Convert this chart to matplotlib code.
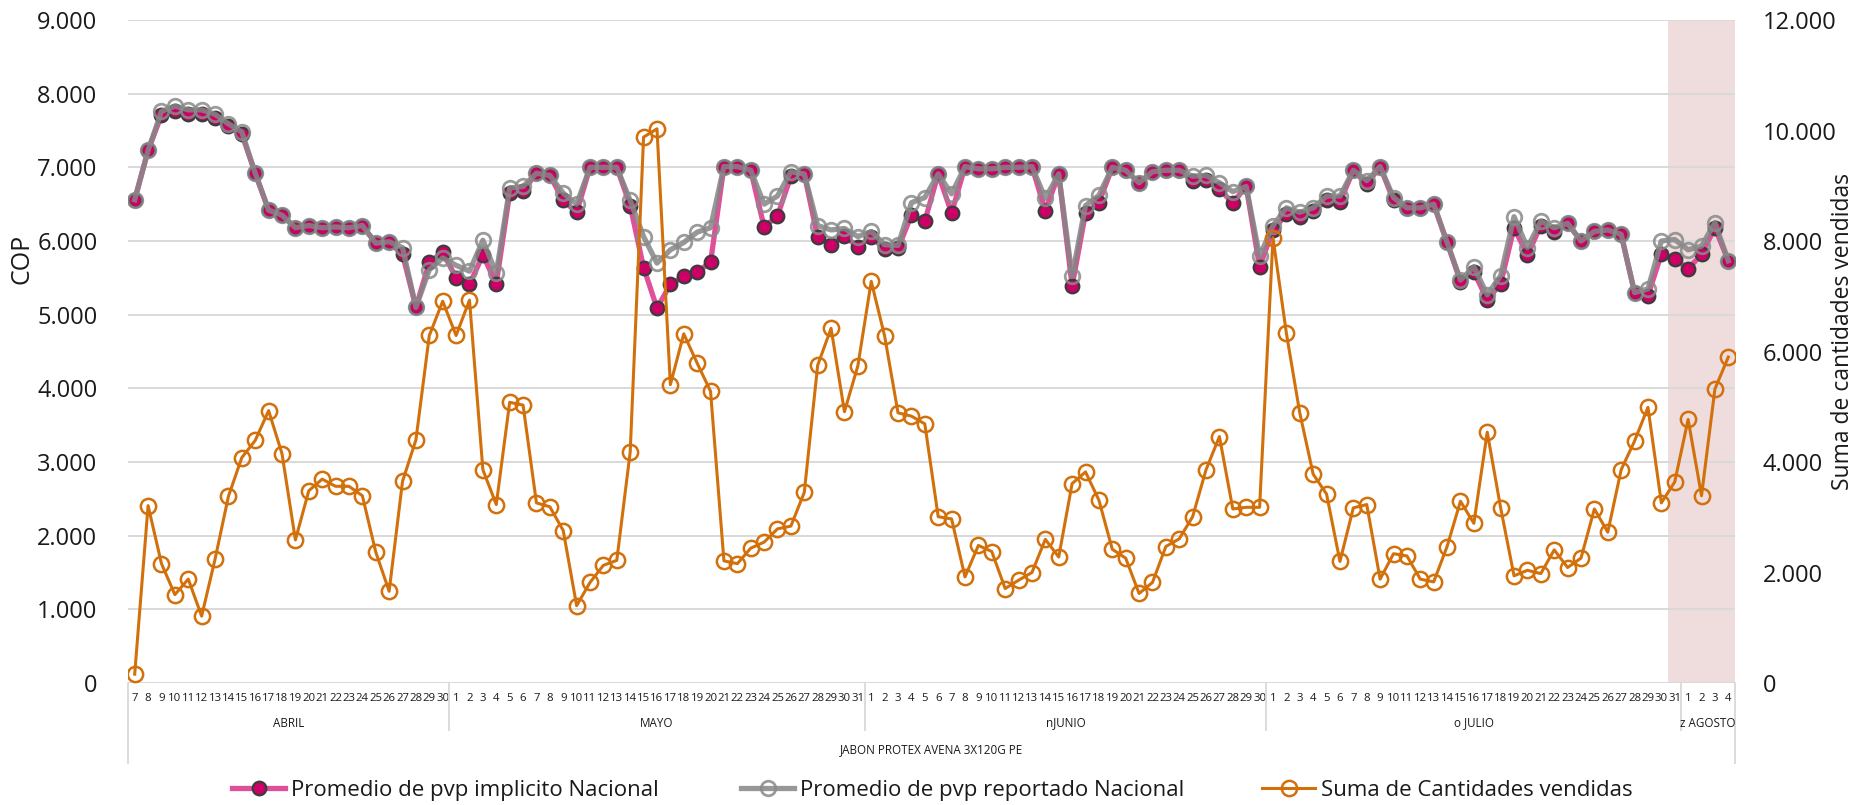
import matplotlib
matplotlib.use('Agg')
import matplotlib.pyplot as plt
from matplotlib.lines import Line2D
from matplotlib.ticker import FuncFormatter, MultipleLocator
import matplotlib.transforms as mtransforms

plt.rcParams['font.family'] = ['Open Sans', 'DejaVu Sans']

# ---------------- data ----------------
months = ['ABRIL', 'MAYO', 'nJUNIO', 'o JULIO', 'z AGOSTO']
month_days = [list(range(7, 31)), list(range(1, 32)), list(range(1, 31)),
              list(range(1, 32)), list(range(1, 5))]
product = 'JABON PROTEX AVENA 3X120G PE'

pvp_implicito = [
    6560, 7230, 7710, 7770, 7730, 7730, 7670, 7560, 7450, 6920,
    6420, 6350, 6180, 6210, 6180, 6190, 6180, 6210, 5970, 5980,
    5820, 5100, 5710, 5850,
    5500, 5410, 5810, 5420, 6650, 6680, 6920, 6890, 6550, 6390,
    7000, 7000, 7000, 6480, 5640, 5090, 5410, 5520, 5580, 5710,
    7010, 7010, 6960, 6190, 6340, 6880, 6910, 6050, 5950, 6070, 5920,
    6060, 5890, 5900, 6350, 6270, 6910, 6380, 7010, 6980, 6980,
    7000, 7000, 7010, 6410, 6910, 5390, 6380, 6520, 7000, 6960,
    6790, 6940, 6960, 6960, 6820, 6830, 6700, 6520, 6740, 5650,
    6150, 6360, 6320, 6410, 6550, 6530, 6960, 6770, 7010, 6550,
    6450, 6450, 6500, 5980, 5450, 5580, 5200, 5420, 6180, 5810,
    6210, 6120, 6240, 6000, 6130, 6150, 6090, 5300, 5260, 5820, 5760,
    5620, 5820, 6180, 5730,
]
pvp_reportado = [
    6560, 7230, 7760, 7830, 7780, 7780, 7720, 7590, 7480, 6920,
    6420, 6350, 6180, 6210, 6180, 6190, 6180, 6210, 5970, 5990,
    5910, 5100, 5610, 5770,
    5670, 5590, 6010, 5560, 6720, 6740, 6920, 6890, 6650, 6500,
    7000, 7000, 7000, 6550, 6060, 5700, 5880, 5980, 6120, 6180,
    7010, 7010, 6960, 6500, 6610, 6940, 6910, 6210, 6150, 6170, 6060,
    6130, 5950, 5940, 6520, 6590, 6910, 6640, 7010, 6980, 6980,
    7000, 7000, 7010, 6580, 6910, 5520, 6480, 6620, 7000, 6960,
    6790, 6940, 6960, 6960, 6880, 6890, 6790, 6670, 6740, 5790,
    6210, 6450, 6390, 6450, 6610, 6610, 6960, 6820, 7010, 6590,
    6450, 6450, 6500, 5980, 5470, 5650, 5270, 5530, 6330, 5910,
    6270, 6180, 6240, 6000, 6130, 6150, 6090, 5300, 5350, 6000, 6020,
    5880, 5930, 6250, 5730,
]
cantidades = [
    160, 3210, 2160, 1600, 1880, 1210, 2240, 3380, 4080, 4390,
    4930, 4150, 2590, 3480, 3690, 3560, 3560, 3390, 2370, 1660,
    3650, 4400, 6290, 6910,
    6290, 6930, 3860, 3230, 5080, 5030, 3260, 3190, 2760, 1400,
    1820, 2130, 2220, 4180, 9880, 10030, 5400, 6320, 5790, 5280,
    2210, 2160, 2440, 2550, 2790, 2840, 3450, 5750, 6420, 4910, 5740,
    7270, 6280, 4890, 4830, 4690, 3010, 2970, 1920, 2490, 2380,
    1710, 1860, 2000, 2600, 2280, 3610, 3820, 3310, 2420, 2260,
    1620, 1820, 2470, 2610, 3010, 3860, 4460, 3150, 3180, 3180,
    8060, 6330, 4890, 3780, 3420, 2200, 3170, 3230, 1880, 2340,
    2300, 1880, 1830, 2470, 3290, 2890, 4540, 3170, 1940, 2040,
    1980, 2410, 2090, 2260, 3150, 2730, 3860, 4380, 4990, 3260, 3640,
    4770, 3390, 5320, 5900,
]

series_names = ['Promedio de pvp implicito Nacional',
                'Promedio de pvp reportado Nacional',
                'Suma de Cantidades vendidas']

# ---------------- styles ----------------
PINK_LINE = '#e0509a'
PINK_MK = '#cc0066'
GRAY = '#858585'
ORANGE = '#d2700c'
GRID = '#d9d9d9'
TXT = '#1a1a1a'

day_labels = [str(d) for m in month_days for d in m]
x = list(range(len(day_labels)))

W, H = 1861, 805
fig = plt.figure(figsize=(W / 100, H / 100), dpi=100)
L, R, T, B = 128, 1735, 20, 683
ax = fig.add_axes([L / W, 1 - B / H, (R - L) / W, (B - T) / H])
ax2 = ax.twinx()

fmt = FuncFormatter(lambda v, p: f'{int(round(v)):,}'.replace(',', '.'))

ax.set_xlim(-0.5, len(x) - 0.5)
ax.set_ylim(0, 9000)
ax2.set_ylim(0, 12000)
ax.yaxis.set_major_locator(MultipleLocator(1000))
ax2.yaxis.set_major_locator(MultipleLocator(2000))
ax.yaxis.set_major_formatter(fmt)
ax2.yaxis.set_major_formatter(fmt)

for a in (ax, ax2):
    for s in a.spines.values():
        s.set_visible(False)

ax.set_axisbelow(True)
ax.grid(axis='y', color=GRID, lw=1.4, zorder=0.5)
ax.tick_params(axis='y', length=0, pad=22, labelsize=17, labelcolor=TXT)
ax2.tick_params(axis='y', length=0, pad=20, labelsize=17, labelcolor=TXT)

ax.set_xticks(x)
ax.set_xticklabels(day_labels, fontsize=8.2, color=TXT)
ax.tick_params(axis='x', length=0, pad=7)

# highlighted period
ax.axvspan(114.5, 119.5, color='#efdcdc', zorder=0.3, lw=0)

# series
ax.plot(x, pvp_implicito, color=PINK_LINE, lw=3.8, marker='o', ms=9.8,
        mfc=PINK_MK, mec='#3c3c3c', mew=1.6, zorder=3)
ax.plot(x, pvp_reportado, color=GRAY, lw=3.8, marker='o', ms=10.5,
        mfc='none', mec='#8a8a8a', mew=2.0, alpha=0.85, zorder=4)
ax2.plot(x, cantidades, color=ORANGE, lw=2.2, marker='o', ms=11,
         mfc='none', mec=ORANGE, mew=1.8, zorder=5)

# multi-level category axis
ph = B - T
trans = mtransforms.blended_transform_factory(ax.transData, ax.transAxes)
starts = [0]
for m in month_days:
    starts.append(starts[-1] + len(m))
for i, name in enumerate(months):
    c = (starts[i] + starts[i + 1] - 1) / 2
    ax.text(c, -40 / ph, name, transform=trans, ha='center', va='center',
            fontsize=8.4, color=TXT)
for b in starts[1:-1]:
    ax.plot([b - 0.5, b - 0.5], [0, -47 / ph], transform=trans, color=GRID,
            lw=1.3, clip_on=False)
for b in (starts[0] - 0.5, starts[-1] - 0.5):
    ax.plot([b, b], [0, -80 / ph], transform=trans, color=GRID, lw=1.3,
            clip_on=False)
ax.text((len(x) - 1) / 2, -67 / ph, product, transform=trans, ha='center',
        va='center', fontsize=8.4, color=TXT)

# axis titles
fig.text(22 / W, 1 - 259 / H, 'COP', rotation=90, ha='center', va='center',
         fontsize=18, color=TXT)
fig.text(1843 / W, 1 - 332 / H, 'Suma de cantidades vendidas', rotation=90,
         ha='center', va='center', fontsize=16.5, color=TXT)

# legend
handles = [
    Line2D([], [], color=PINK_LINE, lw=3.8, marker='o', ms=9.8, mfc=PINK_MK,
           mec='#3c3c3c', mew=1.6),
    Line2D([], [], color=GRAY, lw=3.8, marker='o', ms=10.5, mfc='none',
           mec='#8a8a8a', mew=2.0, alpha=0.85),
    Line2D([], [], color=ORANGE, lw=2.2, marker='o', ms=11, mfc='none',
           mec=ORANGE, mew=1.8),
]
leg_x = [232, 741, 1262]
for h, name, lx in zip(handles, series_names, leg_x):
    lg = fig.legend([h], [name], loc='center left',
                    bbox_to_anchor=(lx / W, 1 - 790 / H), frameon=False,
                    fontsize=16, handlelength=2.4, handletextpad=0.25,
                    borderpad=0, borderaxespad=0)
    for t in lg.get_texts():
        t.set_color(TXT)

fig.savefig('out.png', dpi=100)
